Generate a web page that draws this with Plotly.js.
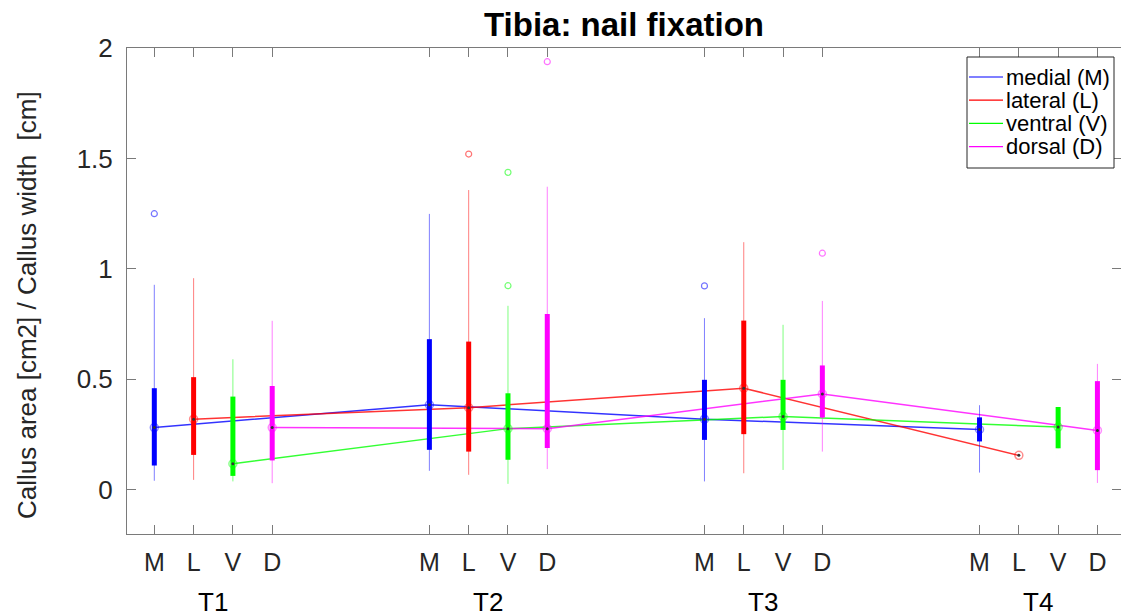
<!DOCTYPE html>
<html>
<head>
<meta charset="utf-8">
<script src="https://cdn.plot.ly/plotly-3.0.1.min.js"></script>
<style>html,body{margin:0;padding:0;background:#fff;}#chart{width:1121px;height:616px;}</style>
</head>
<body>
<div id="chart"></div>
<script>
// ---- data ----
const groups = ['T1', 'T2', 'T3', 'T4'];
const sideLabels = ['M', 'L', 'V', 'D'];
const seriesNames = ['medial (M)', 'lateral (L)', 'ventral (V)', 'dorsal (D)'];
const seriesColors = ['0,0,255', '255,0,0', '0,255,0', '255,0,255'];
const yTitle = 'Callus area [cm2] / Callus width  [cm]';

// per series, per time point: [lower whisker, q1, median, q3, upper whisker]
const medialStats = [
  [0.041, 0.110, 0.282, 0.460, 0.928],
  [0.086, 0.181, 0.385, 0.682, 1.249],
  [0.038, 0.226, 0.320, 0.498, 0.777],
  [0.078, 0.219, 0.273, 0.328, 0.383]
];
const lateralStats = [
  [0.045, 0.158, 0.320, 0.510, 0.958],
  [0.068, 0.173, 0.372, 0.671, 1.357],
  [0.075, 0.252, 0.460, 0.766, 1.121],
  [0.156, 0.156, 0.156, 0.156, 0.156]
];
const ventralStats = [
  [0.038, 0.063, 0.118, 0.422, 0.591],
  [0.027, 0.136, 0.277, 0.437, 0.833],
  [0.090, 0.271, 0.332, 0.498, 0.747],
  [0.188, 0.188, 0.284, 0.375, 0.375]
];
const dorsalStats = [
  [0.030, 0.133, 0.282, 0.470, 0.765],
  [0.094, 0.189, 0.277, 0.796, 1.372],
  [0.173, 0.327, 0.434, 0.563, 0.855],
  [0.031, 0.089, 0.269, 0.492, 0.570]
];
// outliers per series, per time point
const medialOutliers = [[1.25], [], [0.923], []];
const lateralOutliers = [[], [1.52], [], []];
const ventralOutliers = [[], [1.437, 0.924], [], []];
const dorsalOutliers = [[], [1.938], [1.071], []];

const allStats = [medialStats, lateralStats, ventralStats, dorsalStats];
const allOutliers = [medialOutliers, lateralOutliers, ventralOutliers, dorsalOutliers];

// ---- positions ----
const groupStart = [1, 8, 15, 22];
const tickVals = [], tickText = [];
groupStart.forEach(g => sideLabels.forEach((s, k) => { tickVals.push(g + k); tickText.push(s); }));

const lineTraces = [];
const traces = [];
allStats.forEach((stats, k) => {
  const c = seriesColors[k];
  const pos = groupStart.map(g => g + k);
  const wx = [], wy = [], bx = [], by = [], ox = [], oy = [];
  stats.forEach((st, g) => {
    wx.push(pos[g], pos[g], null); wy.push(st[0], st[4], null);
    bx.push(pos[g], pos[g], null); by.push(st[1], st[3], null);
    allOutliers[k][g].forEach(v => { ox.push(pos[g]); oy.push(v); });
  });
  traces.push({x: wx, y: wy, mode: 'lines', line: {color: 'rgba(' + c + ',0.5)', width: 1}});
  traces.push({x: bx, y: by, mode: 'lines', line: {color: 'rgb(' + c + ')', width: 5}});
  traces.push({x: ox, y: oy, mode: 'markers', marker: {symbol: 'circle-open', size: 6, color: 'rgba(' + c + ',0.55)', line: {width: 1.2}}});
  const med = stats.map(st => st[2]);
  lineTraces.push({x: pos, y: med, mode: 'lines', name: seriesNames[k], line: {color: 'rgba(' + c + ',0.8)', width: 1.5}});
  traces.push({x: pos, y: med, mode: 'markers', marker: {symbol: 'circle-open', size: 8, color: 'rgba(' + c + ',0.45)', line: {width: 1.5}}});
  traces.push({x: pos, y: med, mode: 'markers', marker: {symbol: 'circle', size: 3, color: '#333'}});
});

const data = lineTraces.concat(traces);

// ---- legend (drawn manually, pixel placement) ----
const PL = 127, PW = 994, PB = 534, PH = 486;
const px = v => (v - PL) / PW;
const py = v => (PB - v) / PH;
const legendShapes = [{type: 'rect', xref: 'paper', yref: 'paper', x0: px(967), x1: px(1114), y0: py(168), y1: py(57),
  line: {color: '#262626', width: 1}, fillcolor: '#fff', layer: 'above'}];
const legendAnn = [];
seriesNames.forEach((n, k) => {
  const yy = 77 + k * 23.2;
  legendShapes.push({type: 'line', xref: 'paper', yref: 'paper', x0: px(969), x1: px(1003), y0: py(yy), y1: py(yy),
    line: {color: 'rgb(' + seriesColors[k] + ')', width: 1.2}, layer: 'above'});
  legendAnn.push({xref: 'paper', yref: 'paper', x: px(1004), y: py(yy), text: n, showarrow: false, xanchor: 'left', yanchor: 'middle',
    font: {size: 22, color: '#000'}});
});

const font = 'Liberation Sans, Arial, Helvetica, sans-serif';
const axisColor = '#7a7a7a';
const layout = {
  width: 1121, height: 616,
  margin: {l: PL, r: 0, t: 48, b: 82},
  paper_bgcolor: '#fff', plot_bgcolor: '#fff',
  font: {family: font, color: '#262626'},
  showlegend: false,
  title: {text: '<b>Tibia: nail fixation</b>', font: {family: font, size: 33, color: '#000'}, x: 0.5, xref: 'paper', y: 1 - 24 / 616, yref: 'container', yanchor: 'middle'},
  xaxis: {range: [0.305, 25.6], tickvals: tickVals, ticktext: tickText, ticks: 'inside', ticklen: 9, tickcolor: axisColor,
          showline: true, linecolor: axisColor, mirror: 'ticks', showgrid: false, zeroline: false,
          tickfont: {size: 25, color: '#262626'}, ticklabelstandoff: 6},
  yaxis: {range: [-0.2, 2], tickvals: [0, 0.5, 1, 1.5, 2], ticktext: ['0', '0.5', '1', '1.5', '2'], ticks: 'inside', ticklen: 9, tickcolor: axisColor,
          showline: true, linecolor: axisColor, mirror: 'ticks', showgrid: false, zeroline: false,
          tickfont: {size: 26, color: '#262626'}, ticklabelstandoff: 8},
  shapes: legendShapes,
  annotations: groups.map((g, i) => ({x: groupStart[i] + 1.5, y: -0.14, xref: 'x', yref: 'paper', text: g, showarrow: false,
    font: {size: 26, color: '#000'}, xanchor: 'center', yanchor: 'middle'})).concat(legendAnn).concat([
    {xref: 'paper', yref: 'paper', x: px(27), y: py(305), text: yTitle, textangle: -90, showarrow: false,
     xanchor: 'center', yanchor: 'middle', font: {size: 26, color: '#262626'}}])
};
Plotly.newPlot('chart', data, layout, {displayModeBar: false, staticPlot: true});
</script>
</body>
</html>
